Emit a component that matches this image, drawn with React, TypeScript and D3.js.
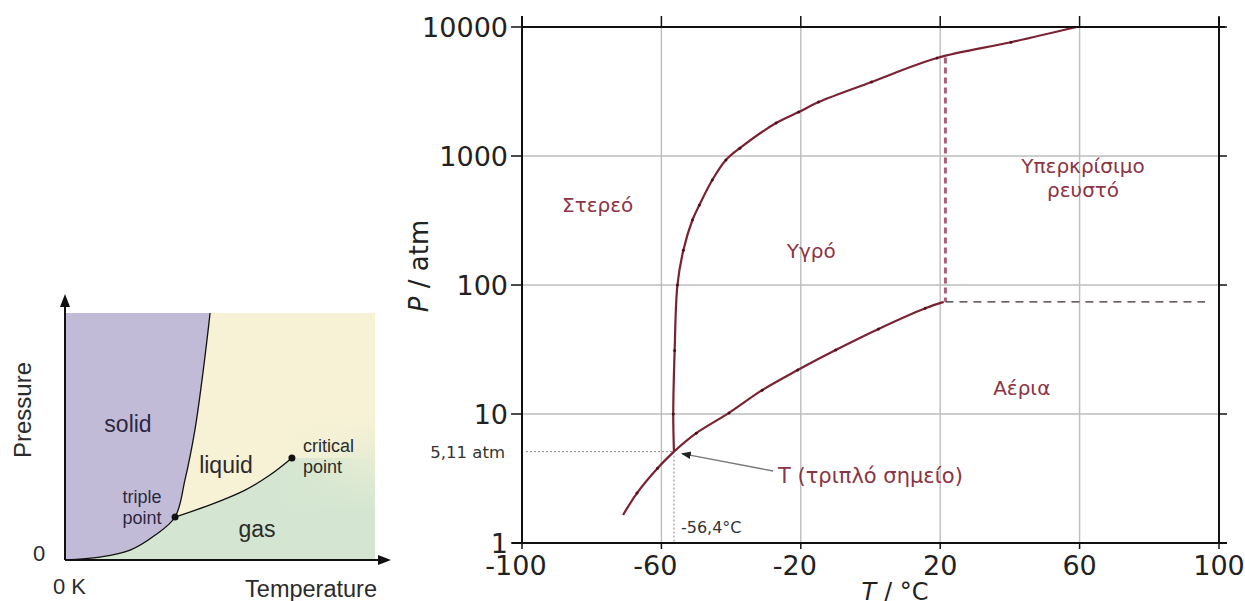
import * as d3 from "d3";

// ---- right chart: CO2 phase diagram ----
const tempTicks = [-100, -60, -20, 20, 60, 100];
const pressTicks = [1, 10, 100, 1000, 10000];

// [T °C, P atm]
const sublimation: [number, number][] = [
  [-71, 1.65],
  [-67, 2.44],
  [-61.1, 3.8],
  [-56.4, 5.11],
];
const melting: [number, number][] = [
  [-56.4, 5.11],
  [-56.6, 10],
  [-56.2, 31],
  [-55.4, 100],
  [-53.7, 186],
  [-51.1, 319],
  [-49.1, 417],
  [-45.4, 651],
  [-41.5, 930],
  [-37.5, 1150],
  [-27.1, 1800],
  [-20.6, 2190],
  [-14.9, 2620],
  [0.3, 3750],
  [19.1, 5750],
  [40.3, 7620],
  [59.1, 10000],
];
const vaporization: [number, number][] = [
  [-56.4, 5.11],
  [-50, 7.1],
  [-40.6, 10.2],
  [-31.1, 15.3],
  [-20.9, 21.9],
  [-10, 31.3],
  [2.3, 45.6],
  [15.7, 66],
  [21, 74],
];
const triple = { T: -56.4, P: 5.11 };
const critical = { T: 21.5, P: 74, Ptop: 5800, Tend: 96 };

const regionLabels = [
  { text: "Στερεό", T: -78.3, P: 368 },
  { text: "Υγρό", T: -17, P: 162 },
  { text: "Υπερκρίσιμο", T: 61, P: 738 },
  { text: "ρευστό", T: 61, P: 481 },
  { text: "Αέρια", T: 43.4, P: 14 },
];

// ---- left sketch: generic phase diagram, normalised 0..1 units ----
const sketchSubl: [number, number][] = [
  [0, 0],
  [0.113, 0.012],
  [0.21, 0.04],
  [0.29, 0.1],
  [0.355, 0.174],
];
const sketchMelt: [number, number][] = [
  [0.355, 0.174],
  [0.387, 0.324],
  [0.419, 0.526],
  [0.442, 0.729],
  [0.458, 0.891],
  [0.468, 1],
];
const sketchVap: [number, number][] = [
  [0.355, 0.174],
  [0.468, 0.223],
  [0.581, 0.283],
  [0.661, 0.344],
  [0.732, 0.413],
];

export default function App() {
  // scales for the real diagram
  const x = d3.scaleLinear().domain([-100, 100]).range([522, 1219]);
  const y = d3.scaleLog().domain([1, 10000]).range([543, 27]);
  const line = d3
    .line<[number, number]>()
    .x((d) => x(d[0]))
    .y((d) => y(d[1]))
    .curve(d3.curveCatmullRom.alpha(0.5));

  // scales for the sketch
  const sx = d3.scaleLinear().domain([0, 1]).range([65, 375]);
  const sy = d3.scaleLinear().domain([0, 1]).range([560, 313]);
  const sline = d3
    .line<[number, number]>()
    .x((d) => sx(d[0]))
    .y((d) => sy(d[1]))
    .curve(d3.curveCatmullRom.alpha(0.5));

  const crit = sketchVap[sketchVap.length - 1];
  const meltTop = sketchMelt[sketchMelt.length - 1];
  const solidPath =
    sline(sketchSubl.concat(sketchMelt.slice(1))) + `L${sx(0)},${sy(1)}Z`;
  const liquidPath =
    sline(sketchVap) +
    `L${sx(1)},${sy(crit[1])}L${sx(1)},${sy(1)}L${sx(meltTop[0])},${sy(1)}` +
    sline(sketchMelt.slice().reverse())!.replace(/^M/, "L") +
    "Z";
  const gasPath =
    sline(sketchSubl) +
    sline(sketchVap)!.replace(/^M/, "L") +
    `L${sx(1)},${sy(crit[1])}L${sx(1)},${sy(0)}Z`;

  const curveColor = "#7a2232";
  const labelColor = "#8c3344";
  const dv = "'DejaVu Sans', sans-serif";
  const ls = "'Liberation Sans', Arial, sans-serif";

  return (
    <svg
      width={1245}
      height={601}
      style={{ position: "absolute", left: 0, top: 0, background: "#fff" }}
    >
      <defs>
        <linearGradient id="fade" x1="0" y1="0" x2="0" y2="1">
          <stop offset="0.42" stopColor="#f7f2d6" />
          <stop offset="0.8" stopColor="#d4e6d1" />
        </linearGradient>
        <linearGradient
          id="liqFade"
          gradientUnits="userSpaceOnUse"
          x1={sx(crit[0]) - 10}
          y1={0}
          x2={sx(1)}
          y2={0}
        >
          <stop offset="0" stopColor="#f7f2d6" stopOpacity={1} />
          <stop offset="1" stopColor="#f7f2d6" stopOpacity={0} />
        </linearGradient>
        <linearGradient
          id="gasFade"
          gradientUnits="userSpaceOnUse"
          x1={sx(crit[0]) - 10}
          y1={0}
          x2={sx(1)}
          y2={0}
        >
          <stop offset="0" stopColor="#d4e6d1" stopOpacity={1} />
          <stop offset="1" stopColor="#d4e6d1" stopOpacity={0} />
        </linearGradient>
        <marker
          id="arrowHead"
          viewBox="0 0 10 10"
          refX="9"
          refY="5"
          markerWidth="7"
          markerHeight="7"
          orient="auto"
        >
          <path d="M0,1L10,5L0,9Z" fill="#222" />
        </marker>
      </defs>

      {/* ================= left sketch ================= */}
      <rect
        x={sx(0)}
        y={sy(1)}
        width={sx(1) - sx(0)}
        height={sy(0) - sy(1)}
        fill="url(#fade)"
      />
      <path d={gasPath} fill="url(#gasFade)" />
      <path d={liquidPath} fill="url(#liqFade)" />
      <path d={solidPath} fill="#c2bbd8" />
      <path
        d={sline(sketchSubl.concat(sketchMelt.slice(1)))!}
        fill="none"
        stroke="#111"
        strokeWidth={1.3}
      />
      <path d={sline(sketchVap)!} fill="none" stroke="#111" strokeWidth={1.3} />
      <circle cx={sx(sketchVap[0][0])} cy={sy(sketchVap[0][1])} r={3.5} fill="#111" />
      <circle cx={sx(crit[0])} cy={sy(crit[1])} r={3.5} fill="#111" />
      {/* axes with arrows */}
      <line x1={sx(0)} y1={sy(0)} x2={sx(0)} y2={300} stroke="#111" strokeWidth={2} />
      <path d={`M${sx(0) - 5},${307}L${sx(0)},${294}L${sx(0) + 5},${307}Z`} fill="#111" />
      <line x1={sx(0)} y1={sy(0)} x2={384} y2={sy(0)} stroke="#111" strokeWidth={2} />
      <path d={`M${378},${sy(0) - 5}L${391},${sy(0)}L${378},${sy(0) + 5}Z`} fill="#111" />
      <g fontFamily={ls} fill="#2b2b2b">
        <text x={128} y={432} fontSize={23} textAnchor="middle" fill="#2c2840">solid</text>
        <text x={226} y={473} fontSize={23} textAnchor="middle">liquid</text>
        <text x={257} y={537} fontSize={23} textAnchor="middle">gas</text>
        <text x={142} y={503} fontSize={18} textAnchor="middle" fill="#2c2840">triple</text>
        <text x={142} y={524} fontSize={18} textAnchor="middle" fill="#2c2840">point</text>
        <text x={303} y={452} fontSize={18}>critical</text>
        <text x={303} y={473} fontSize={18}>point</text>
        <text x={39} y={561} fontSize={22} textAnchor="middle">0</text>
        <text x={53} y={594} fontSize={22}>0 K</text>
        <text x={377} y={597} fontSize={23.5} textAnchor="end">Temperature</text>
        <text
          transform="translate(31,410) rotate(-90)"
          fontSize={24}
          textAnchor="middle"
        >
          Pressure
        </text>
      </g>

      {/* ================= right chart ================= */}
      {/* grid */}
      {tempTicks.slice(1, -1).map((t) => (
        <line key={"gx" + t} x1={x(t)} x2={x(t)} y1={y(10000)} y2={y(1)} stroke="#bdbdbd" strokeWidth={1.4} />
      ))}
      {pressTicks.slice(1, -1).map((p) => (
        <line key={"gy" + p} x1={x(-100)} x2={x(100)} y1={y(p)} y2={y(p)} stroke="#bdbdbd" strokeWidth={1.4} />
      ))}

      {/* triple point guides */}
      <line x1={x(-100) + 4} x2={x(triple.T)} y1={y(triple.P)} y2={y(triple.P)} stroke="#888" strokeWidth={1} strokeDasharray="2,2" />
      <line x1={x(triple.T)} x2={x(triple.T)} y1={y(triple.P)} y2={y(1)} stroke="#888" strokeWidth={1} strokeDasharray="2,2" />

      {/* critical point dashed lines */}
      <line
        x1={x(critical.T)}
        x2={x(critical.T)}
        y1={y(critical.Ptop)}
        y2={y(critical.P)}
        stroke="#a8627a"
        strokeWidth={3}
        strokeDasharray="6,4"
      />
      <line
        x1={x(critical.T)}
        x2={x(critical.Tend)}
        y1={y(critical.P)}
        y2={y(critical.P)}
        stroke="#3a2a2e"
        strokeWidth={1.3}
        strokeDasharray="8,6"
      />

      {/* phase boundaries */}
      {[sublimation, melting, vaporization].map((c, i) => (
        <g key={"c" + i}>
          <path d={line(c)!} fill="none" stroke={curveColor} strokeWidth={2.2} />
          {c.slice(1, -1).map((d, j) => (
            <circle key={j} cx={x(d[0])} cy={y(d[1])} r={1.5} fill="#4a1019" />
          ))}
        </g>
      ))}

      {/* frame */}
      <line x1={x(-100)} x2={x(-100)} y1={16} y2={y(1)} stroke="#111" strokeWidth={2} />
      <line x1={x(100)} x2={x(100)} y1={17} y2={y(1)} stroke="#111" strokeWidth={2} />
      <line x1={x(-100)} x2={x(100) + 6} y1={y(10000)} y2={y(10000)} stroke="#111" strokeWidth={2} />
      <line x1={x(-100) - 10} x2={x(100) + 8} y1={y(1)} y2={y(1)} stroke="#111" strokeWidth={2} />
      {tempTicks.map((t) => (
        <g key={"tx" + t}>
          <line x1={x(t)} x2={x(t)} y1={y(10000) - 11} y2={y(10000)} stroke="#111" strokeWidth={1.5} />
          <line x1={x(t)} x2={x(t)} y1={y(1)} y2={y(1) + 6} stroke="#111" strokeWidth={1.5} />
        </g>
      ))}
      {pressTicks.map((p) => (
        <g key={"ty" + p}>
          <line x1={x(-100) - 11} x2={x(-100)} y1={y(p)} y2={y(p)} stroke="#111" strokeWidth={1.5} />
          <line x1={x(100)} x2={x(100) + 8} y1={y(p)} y2={y(p)} stroke="#111" strokeWidth={1.5} />
        </g>
      ))}

      {/* tick labels */}
      <g fontFamily={dv} fontSize={27} fill="#222">
        {pressTicks.map((p) => (
          <text key={"ly" + p} x={508} y={y(p) + 10} textAnchor="end">
            {p}
          </text>
        ))}
        {tempTicks.map((t) => (
          <text key={"lx" + t} x={x(t) - (t < 0 ? 6 : 0)} y={575} textAnchor="middle">
            {t}
          </text>
        ))}
      </g>
      <g fontFamily={dv} fill="#333">
        <text x={505} y={y(triple.P) + 6} fontSize={16.5} textAnchor="end">5,11 atm</text>
        <text x={x(triple.T) + 7} y={533} fontSize={16}>-56,4°C</text>
      </g>

      {/* axis titles */}
      <text
        transform={`translate(428,266) rotate(-90)`}
        fontFamily={dv}
        fontSize={26}
        fill="#222"
        textAnchor="middle"
      >
        <tspan fontStyle="italic">P</tspan> / atm
      </text>
      <text x={895} y={600} fontFamily={dv} fontSize={24} fill="#222" textAnchor="middle">
        <tspan fontStyle="italic">T</tspan> / °C
      </text>

      {/* region labels */}
      <g fontFamily={dv} fontSize={20} fill={labelColor}>
        {regionLabels.map((r) => (
          <text key={r.text} x={x(r.T)} y={y(r.P)} textAnchor="middle">
            {r.text}
          </text>
        ))}
      </g>

      {/* triple point annotation */}
      <line
        x1={773}
        y1={471}
        x2={x(triple.T) + 8}
        y2={y(triple.P) + 2}
        stroke="#777"
        strokeWidth={1.4}
        markerEnd="url(#arrowHead)"
      />
      <text x={778} y={483} fontFamily={dv} fontSize={21} fill={labelColor}>
        T (τριπλό σημείο)
      </text>
    </svg>
  );
}
